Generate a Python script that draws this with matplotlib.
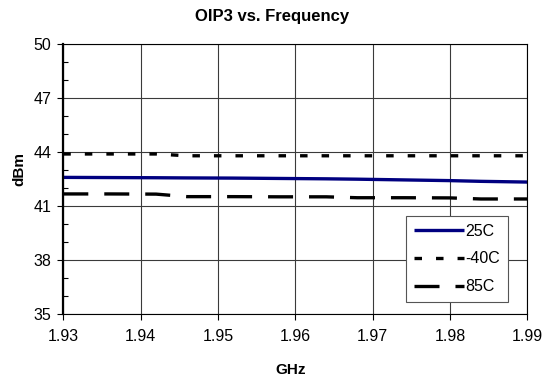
import matplotlib
matplotlib.use("Agg")
import matplotlib.pyplot as plt
from matplotlib.ticker import MultipleLocator

plt.rcParams['font.family'] = ['Liberation Sans', 'DejaVu Sans']
plt.rcParams['lines.scale_dashes'] = False

# OIP3 measured over the band at three temperatures
freq_ghz = [1.930, 1.936, 1.942, 1.946, 1.952, 1.958, 1.964, 1.968, 1.974, 1.980, 1.984, 1.990]
oip3_25c = [42.59, 42.58, 42.57, 42.56, 42.55, 42.53, 42.51, 42.49, 42.45, 42.41, 42.37, 42.33]
oip3_m40c = [43.89, 43.89, 43.89, 43.79, 43.79, 43.79, 43.79, 43.79, 43.79, 43.79, 43.79, 43.79]
oip3_85c = [41.67, 41.67, 41.66, 41.52, 41.52, 41.51, 41.51, 41.46, 41.46, 41.45, 41.39, 41.39]

x_ticks = [1.93, 1.94, 1.95, 1.96, 1.97, 1.98, 1.99]
y_ticks = [35, 38, 41, 44, 47, 50]

W, H = 559, 384
fig = plt.figure(figsize=(W / 100, H / 100), dpi=100)
left, right, top, bottom = 63.3, 527.3, 44, 314
ax = fig.add_axes([left / W, 1 - bottom / H, (right - left) / W, (bottom - top) / H])

ax.plot(freq_ghz, oip3_25c, color='#000080', lw=2.4, label='25C', solid_capstyle='butt')
ax.plot(freq_ghz, oip3_m40c, color='black', lw=2.4, dashes=(5.4, 10.1), label='-40C')
ax.plot(freq_ghz, oip3_85c, color='black', lw=2.4, dashes=(18, 11.5), label='85C')

ax.set_xlim(1.93, 1.99)
ax.set_ylim(35, 50)
ax.set_xticks(x_ticks)
ax.set_xticklabels([f'{v:.2f}' for v in x_ticks])
ax.set_yticks(y_ticks)
ax.yaxis.set_minor_locator(MultipleLocator(1))

ax.grid(True, which='major', color='#3a3a3a', lw=0.8)
ax.set_axisbelow(True)
for side in ['top', 'right', 'bottom']:
    ax.spines[side].set_linewidth(0.8)
    ax.spines[side].set_color('black')
ax.spines['left'].set_linewidth(1.6)

ax.tick_params(axis='both', which='major', direction='out', length=4.5, width=0.8,
               labelsize=11.5, colors='black')
ax.tick_params(axis='y', which='major', pad=4)
ax.tick_params(axis='x', which='major', pad=6)
ax.tick_params(axis='y', which='minor', direction='in', length=3.5, width=0.8)

fig.text(272 / W, 1 - 17 / H, 'OIP3 vs. Frequency', ha='center', va='center',
         fontsize=12, fontweight='bold')
fig.text(291 / W, 1 - 370 / H, 'GHz', ha='center', va='center',
         fontsize=11, fontweight='bold')
fig.text(19 / W, 1 - 169 / H, 'dBm', ha='center', va='center', rotation=90,
         fontsize=11, fontweight='bold')

leg = ax.legend(loc='upper left', bbox_to_anchor=(406 / W, 1 - 215.7 / H),
                bbox_transform=fig.transFigure, borderaxespad=0, fontsize=11.5,
                handlelength=3.1, handletextpad=0.1, labelspacing=0.8,
                borderpad=0.5, fancybox=False, framealpha=1)
leg.get_frame().set_edgecolor('#555555')
leg.get_frame().set_linewidth(0.8)

fig.savefig('out.png', dpi=100)
